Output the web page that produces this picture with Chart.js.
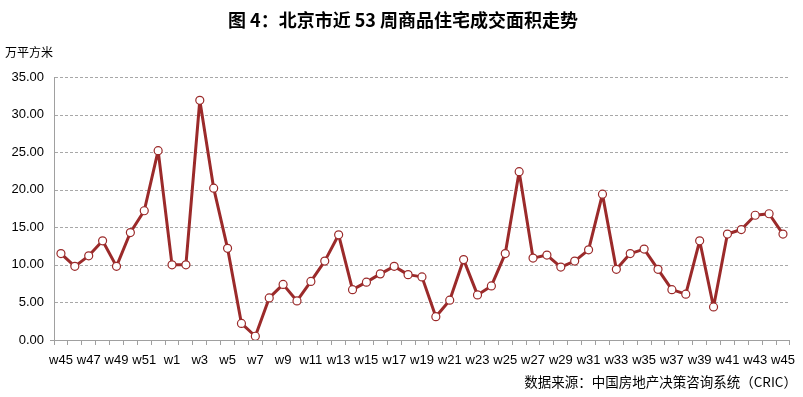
<!DOCTYPE html>
<html>
<head>
<meta charset="utf-8">
<script src="https://cdn.jsdelivr.net/npm/chart.js@4/dist/chart.umd.min.js"></script>
<style>
  body { margin: 0; background: #fff; }
  #wrap { position: relative; width: 803px; height: 397px; }
  #chart { position: absolute; left: 0; top: 0; }
  .txt { position: absolute; font-family: "Noto Sans CJK SC", sans-serif; color: #000; white-space: nowrap; }
  #title { top: 6px; left: 0; width: 806px; text-align: center; font-size: 18px; font-weight: bold; }
  #unit { top: 43px; left: 5px; font-size: 12px; }
  #source { top: 371px; right: 6px; font-size: 13.5px; }
</style>
</head>
<body>
<div id="wrap">
  <canvas id="chart" width="803" height="397"></canvas>
  <div id="title" class="txt">图 4：北京市近 53 周商品住宅成交面积走势</div>
  <div id="unit" class="txt">万平方米</div>
  <div id="source" class="txt">数据来源：中国房地产决策咨询系统（CRIC）</div>
</div>
<script>
// weeks: w45..w52 of last year, then w1..w45
const weeks = ['w45', 'w46', 'w47', 'w48', 'w49', 'w50', 'w51', 'w52',
  'w1', 'w2', 'w3', 'w4', 'w5', 'w6', 'w7', 'w8', 'w9', 'w10',
  'w11', 'w12', 'w13', 'w14', 'w15', 'w16', 'w17', 'w18', 'w19', 'w20',
  'w21', 'w22', 'w23', 'w24', 'w25', 'w26', 'w27', 'w28', 'w29', 'w30',
  'w31', 'w32', 'w33', 'w34', 'w35', 'w36', 'w37', 'w38', 'w39', 'w40',
  'w41', 'w42', 'w43', 'w44', 'w45']

const area = [11.5, 9.8, 11.2, 13.2, 9.8, 14.3, 17.2, 25.2,
  10.0, 10.0, 31.9, 20.2, 12.2, 2.2, 0.5, 5.6, 7.4, 5.2,
  7.8, 10.5, 14.0, 6.7, 7.7, 8.8, 9.8, 8.7, 8.4, 3.1,
  5.3, 10.7, 6.0, 7.2, 11.5, 22.4, 10.9, 11.3, 9.7, 10.5,
  12.0, 19.4, 9.4, 11.5, 12.1, 9.4, 6.7, 6.1, 13.2, 4.4,
  14.1, 14.7, 16.6, 16.8, 14.1]

const yTicks = [0, 5, 10, 15, 20, 25, 30, 35]

const lineColor = '#9b2a2a'
const tickFont = { family: 'Liberation Sans, Arial, sans-serif', size: 13 }

new Chart(document.querySelector('#chart').getContext('2d'), {
  type: 'line',
  data: {
    labels: weeks,
    datasets: [{
      data: area,
      borderColor: lineColor,
      borderWidth: 3,
      borderJoinStyle: 'round',
      pointRadius: 4,
      pointBorderWidth: 1.2,
      pointBackgroundColor: '#fff',
      pointBorderColor: lineColor,
      tension: 0
    }]
  },
  options: {
    responsive: false,
    animation: false,
    layout: { padding: { left: 0, right: 11, top: 77, bottom: 0 } },
    plugins: { legend: { display: false }, tooltip: { enabled: false } },
    scales: {
      x: {
        offset: true,
        grid: {
          offset: true,
          drawOnChartArea: false,
          drawTicks: true,
          tickLength: 5,
          color: '#a0a0a0'
        },
        border: { color: '#a0a0a0', width: 1 },
        ticks: {
          autoSkip: false,
          maxRotation: 0,
          padding: 8,
          color: '#000',
          font: tickFont,
          callback: (v, i) => i % 2 === 0 ? weeks[i] : ''
        },
        afterFit: scale => { scale.height = 57 }
      },
      y: {
        min: 0,
        max: 35,
        afterBuildTicks: scale => { scale.ticks = yTicks.map(v => ({ value: v })) },
        grid: {
          drawOnChartArea: false,
          drawTicks: true,
          tickLength: 4,
          tickColor: ctx => ctx.tick && ctx.tick.value === 0 ? '#a0a0a0' : 'rgba(0,0,0,0)'
        },
        border: { color: '#a0a0a0', width: 1 },
        ticks: {
          color: '#000',
          font: tickFont,
          padding: 6,
          callback: v => v.toFixed(2)
        },
        afterFit: scale => { scale.width = 54 }
      }
    }
  },
  plugins: [{
    id: 'dashedGrid',
    beforeDatasetsDraw(chart) {
      const y = chart.scales.y
      const a = chart.chartArea
      const ctx = chart.ctx
      ctx.save()
      ctx.strokeStyle = '#a8a8a8'
      ctx.lineWidth = 1
      ctx.setLineDash([3, 2])
      yTicks.forEach(v => {
        if (v === 0) return
        const py = Math.round(y.getPixelForValue(v)) + 0.5
        ctx.beginPath()
        ctx.moveTo(a.left + 1, py)
        ctx.lineTo(a.right, py)
        ctx.stroke()
      })
      ctx.restore()
    }
  }]
})
</script>
</body>
</html>
